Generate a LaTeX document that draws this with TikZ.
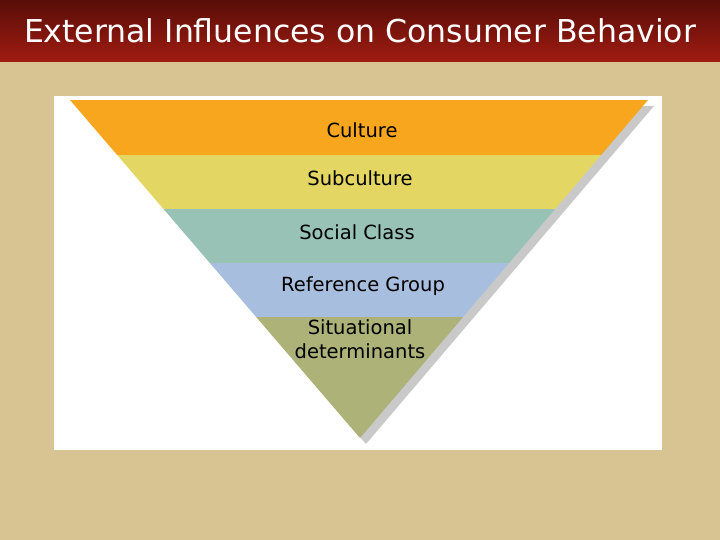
\documentclass[tikz,border=0pt]{standalone}
\usepackage{fontspec}
\setmainfont{DejaVu Sans}
\begin{document}
\begin{tikzpicture}[x=1pt,y=-1pt,
  lbl/.style={font=\fontsize{19.5}{24}\selectfont,text=black,align=center,inner sep=0pt}]
\useasboundingbox (0,0) rectangle (720,540);
\fill[fill={rgb,255:red,216;green,195;blue,147}] (0,0) rectangle (720,540);
\shade[top color={rgb,255:red,88;green,14;blue,8},bottom color={rgb,255:red,160;green,28;blue,18}] (0,0) rectangle (720,62);
\node[font=\fontsize{31.5}{36}\selectfont,text=white] (title) at (360,31) {External Influences on Consumer Behavior};
\fill[white] (54,96) rectangle (662,450);
% shadow
\fill[black!35,opacity=0.6] (76,106) -- (654,106) -- (366,444) -- cycle;
\begin{scope}
\clip (70,100) -- (648,100) -- (360,438) -- cycle;
\fill[fill={rgb,255:red,247;green,166;blue,30}] (0,100) rectangle (720,155);
\fill[fill={rgb,255:red,227;green,214;blue,98}] (0,155) rectangle (720,209);
\fill[fill={rgb,255:red,152;green,194;blue,181}] (0,209) rectangle (720,263);
\fill[fill={rgb,255:red,168;green,190;blue,222}] (0,263) rectangle (720,317);
\fill[fill={rgb,255:red,172;green,178;blue,120}] (0,317) rectangle (720,440);
\end{scope}
\node[lbl] (c1) at (362,130) {Culture};
\node[lbl] (c2) at (360,178) {Subculture};
\node[lbl] (c3) at (357,232) {Social Class};
\node[lbl] (c4) at (363,286) {Reference Group};
\node[lbl] (c5) at (360,339) {Situational\\determinants};
\end{tikzpicture}
\end{document}
